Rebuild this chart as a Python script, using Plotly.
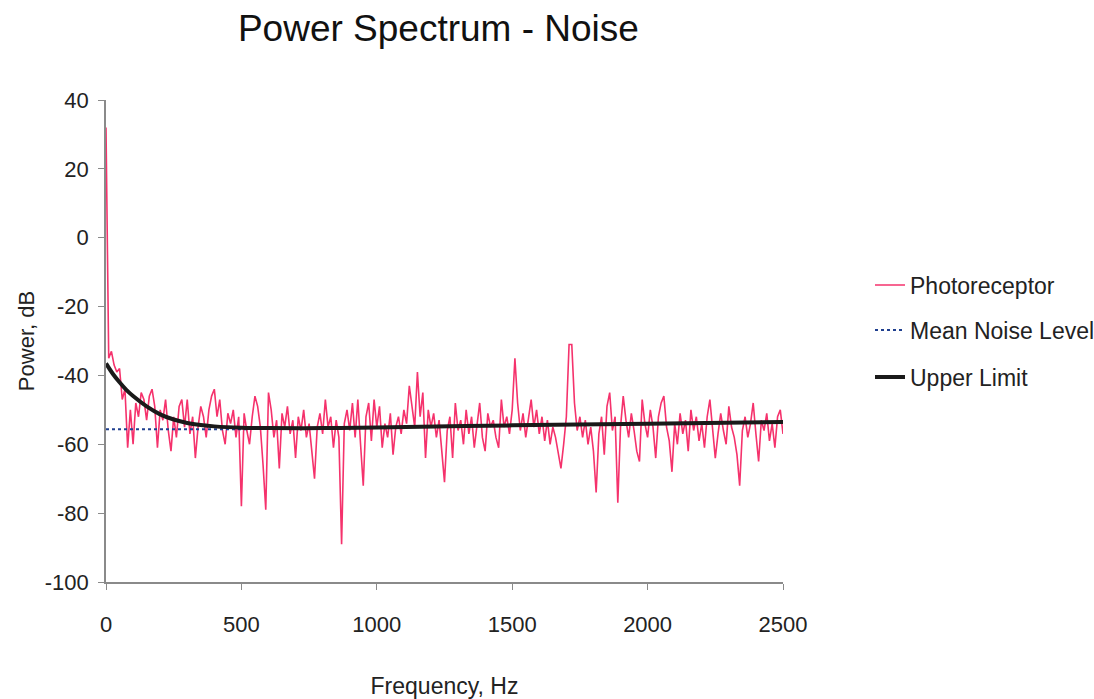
import plotly.graph_objects as go

# ---- data ----
freq_step = 10
photoreceptor_db = [
    32, -35, -33, -37, -39, -38, -47, -44, -61, -50,
    -60, -48, -52, -45, -47, -53, -46, -44, -49, -61,
    -50, -53, -47, -56, -62, -52, -58, -49, -47, -55,
    -47, -57, -52, -64, -55, -49, -52, -58, -50, -46,
    -44, -52, -47, -56, -60, -51, -54, -50, -58, -52,
    -78, -51, -56, -60, -52, -46, -49, -55, -66, -79,
    -45, -50, -58, -53, -67, -51, -55, -49, -57, -53,
    -64, -52, -56, -50, -58, -54, -62, -70, -55, -51,
    -57, -47, -55, -52, -61, -53, -58, -89, -54, -50,
    -56, -48, -58, -47, -60, -72, -52, -48, -59, -47,
    -55, -49, -61, -54, -58, -51, -63, -55, -52, -57,
    -50, -54, -43, -49, -55, -39, -52, -45, -64, -50,
    -55, -51, -58, -53, -62, -71, -56, -52, -64, -48,
    -56, -53, -60, -50, -57, -52, -61, -54, -48, -58,
    -62, -51, -55, -53, -58, -61, -47, -55, -52, -57,
    -50, -35, -48, -56, -51, -58, -53, -47, -55, -50,
    -57, -52, -59, -53, -60, -55, -58, -62, -67, -60,
    -52, -31, -31, -48, -56, -52, -58, -53, -60, -55,
    -62, -74, -57, -52, -63, -49, -45, -56, -52, -77,
    -55, -46, -53, -58, -51, -56, -62, -65, -47, -54,
    -58, -50, -55, -64, -52, -48, -46, -55, -59, -68,
    -54, -60, -51, -57, -53, -62, -50, -56, -52, -59,
    -54, -61, -52, -47, -55, -64, -57, -51, -56, -60,
    -49, -55, -58, -63, -72, -56, -52, -58, -54, -48,
    -57, -65, -53, -56, -51, -59, -54, -61, -52, -50,
    -57,
]
photoreceptor_hz = [i * freq_step for i in range(len(photoreceptor_db))]

mean_noise_hz = [0, 520]
mean_noise_db = [-55.6, -55.6]

upper_limit_hz = [0, 25, 50, 75, 100, 150, 200, 250, 300, 350, 400, 500,
                  600, 800, 1000, 1500, 2000, 2500]
upper_limit_db = [-36.5, -39.5, -42, -44.2, -46, -49, -51.3, -52.8, -53.8,
                  -54.4, -54.8, -55.2, -55.3, -55.3, -55.1, -54.5, -54.0, -53.5]

x_ticks = [0, 500, 1000, 1500, 2000, 2500]
y_ticks = [-100, -80, -60, -40, -20, 0, 20, 40]
y_ticktext = ["-100", "-80", "-60", "-40", "-20", "0", "20", "40"]

FONT = "Liberation Sans, Arial, sans-serif"
PINK = "#f5326c"
NAVY = "#1f3f8f"

fig = go.Figure()
fig.add_trace(go.Scatter(
    x=photoreceptor_hz, y=photoreceptor_db, mode="lines", name="Photoreceptor",
    line=dict(color=PINK, width=1.6), legend="legend"))
fig.add_trace(go.Scatter(
    x=mean_noise_hz, y=mean_noise_db, mode="lines", name="Mean Noise Level",
    line=dict(color=NAVY, width=2, dash="dot"), legend="legend2"))
fig.add_trace(go.Scatter(
    x=upper_limit_hz, y=upper_limit_db, mode="lines", name="Upper Limit",
    line=dict(color="#1a1a1a", width=4, shape="spline"), legend="legend3"))

W0, H0 = 677, 482
LX = (870 - 106) / W0
leg_common = dict(font=dict(family=FONT, size=23, color="#222"),
                  bgcolor="rgba(0,0,0,0)", xanchor="left", yanchor="middle")
fig.update_layout(
    width=1094, height=699,
    margin=dict(l=106, r=311, t=100, b=117, autoexpand=False),
    showlegend=True,
    paper_bgcolor="white", plot_bgcolor="white",
    font=dict(family=FONT, size=22, color="#222"),
    title=dict(text="Power Spectrum - Noise", x=0.491, xref="paper",
               y=1 - 28 / 699, yref="container", yanchor="middle",
               font=dict(family=FONT, size=37, color="#111")),
    legend=dict(x=LX, y=(582 - 285) / H0, **leg_common),
    legend2=dict(x=LX, y=(582 - 330) / H0, **leg_common),
    legend3=dict(x=LX, y=(582 - 377) / H0, **leg_common),
    xaxis=dict(range=[0, 2500], tickvals=x_ticks, showgrid=False,
               zeroline=False, showline=True, linecolor="#8a8a8a", linewidth=1.5,
               ticks="outside", ticklen=6, tickcolor="#8a8a8a",
               ticklabelstandoff=16, automargin=False,
               tickfont=dict(family=FONT, size=22, color="#222"),
               title=dict(text="Frequency, Hz", standoff=46,
                          font=dict(family=FONT, size=23, color="#222"))),
    yaxis=dict(range=[-100, 40], tickvals=y_ticks, ticktext=y_ticktext,
               showgrid=False, zeroline=False, showline=True,
               linecolor="#8a8a8a", linewidth=1.5,
               ticks="outside", ticklen=6, tickcolor="#8a8a8a",
               ticklabelstandoff=5, automargin=False,
               tickfont=dict(family=FONT, size=22, color="#222"),
               title=dict(text="Power, dB", standoff=4,
                          font=dict(family=FONT, size=22, color="#222"))),
)

fig.write_html("out.html")
